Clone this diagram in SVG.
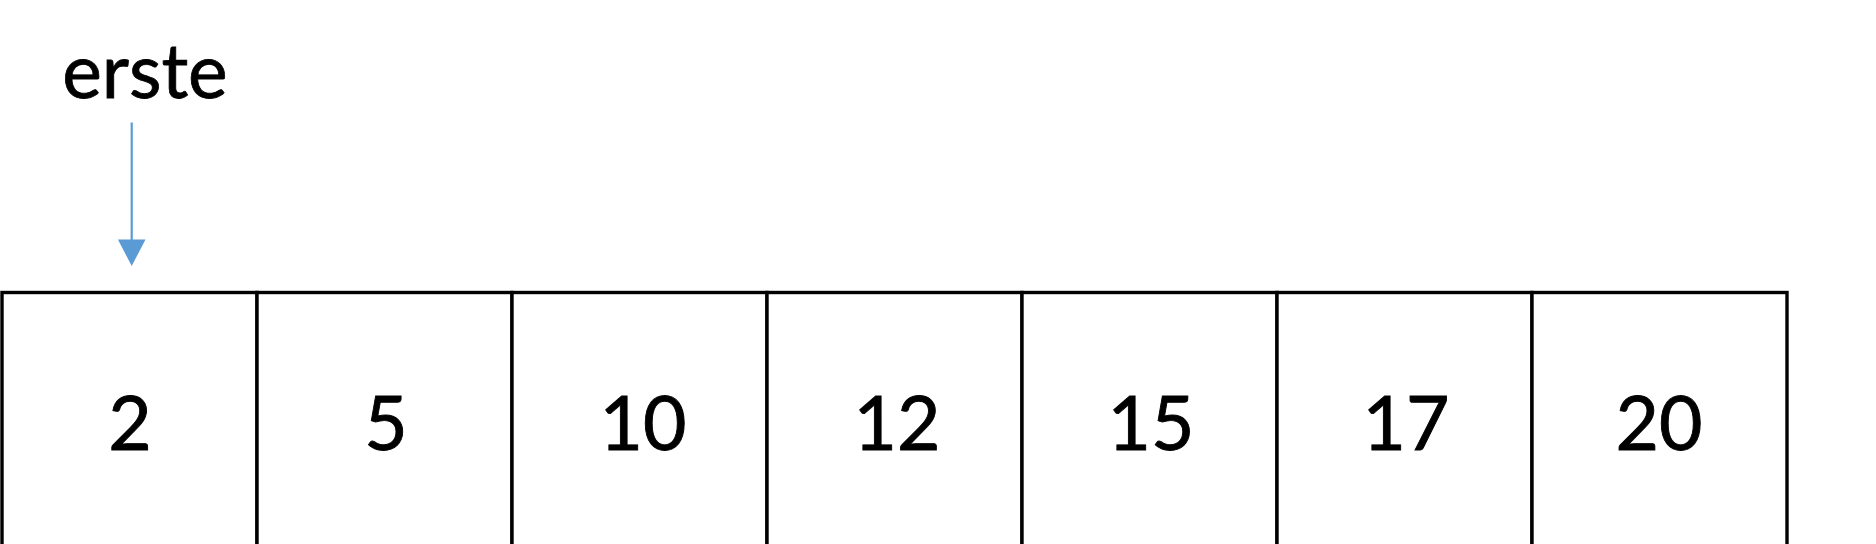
<svg xmlns="http://www.w3.org/2000/svg" width="1876" height="544" viewBox="0 0 1876 544">
  <style>
    .cell { fill: #ffffff; stroke: #000000; stroke-width: 3.4; }
    .num { font-family: Lato, "Liberation Sans", sans-serif; font-size: 75px; fill: #000000; stroke: #000000; stroke-width: 0.9; text-anchor: middle; }
    .lbl { font-family: Lato, "Liberation Sans", sans-serif; font-size: 75px; fill: #000000; stroke: #000000; stroke-width: 0.8; text-anchor: middle; }
    .conn { stroke: #5B9BD5; stroke-width: 2.2; fill: none; }
  </style>
  <rect x="0" y="0" width="1876" height="544" fill="#ffffff"/>
  <g id="label-erste">
    <text class="lbl" x="145" y="98">erste</text>
  </g>
  <g id="cell-0">
    <rect class="cell" x="2" y="292.5" width="255" height="270"/>
    <text class="num" x="130" y="450">2</text>
  </g>
  <g id="cell-1">
    <rect class="cell" x="257" y="292.5" width="255" height="270"/>
    <text class="num" x="386" y="450">5</text>
  </g>
  <g id="cell-2">
    <rect class="cell" x="512" y="292.5" width="255" height="270"/>
    <text class="num" x="643" y="450">10</text>
  </g>
  <g id="cell-3">
    <rect class="cell" x="767" y="292.5" width="255" height="270"/>
    <text class="num" x="897" y="450">12</text>
  </g>
  <g id="cell-4">
    <rect class="cell" x="1022" y="292.5" width="255" height="270"/>
    <text class="num" x="1151" y="450">15</text>
  </g>
  <g id="cell-5">
    <rect class="cell" x="1277" y="292.5" width="255" height="270"/>
    <text class="num" x="1406" y="450">17</text>
  </g>
  <g id="cell-6">
    <rect class="cell" x="1532" y="292.5" width="255" height="270"/>
    <text class="num" x="1659" y="450">20</text>
  </g>
  <g id="connectors">
    <line class="conn" x1="131.7" y1="122.5" x2="131.7" y2="240"/>
    <path d="M117.9,239.5 L145.5,239.5 L131.7,266 Z" fill="#5B9BD5"/>
  </g>
</svg>
